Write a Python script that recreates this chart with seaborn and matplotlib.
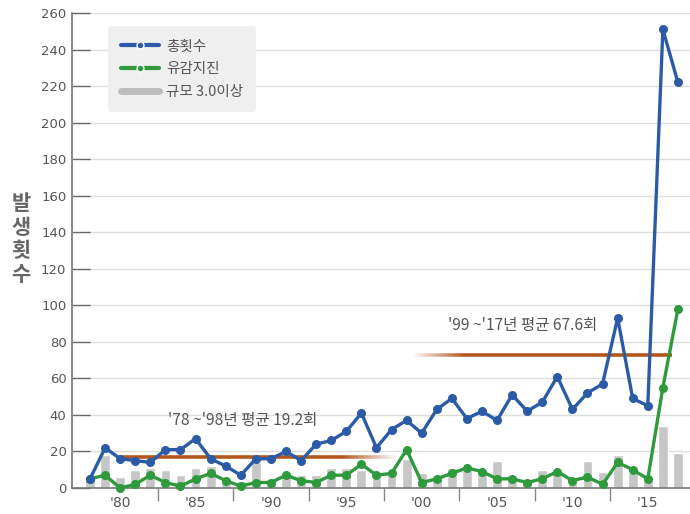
import numpy as np
import matplotlib
matplotlib.use("Agg")
import matplotlib.pyplot as plt
import seaborn as sns
from matplotlib.lines import Line2D

sns.set_style("white")
plt.rcParams['font.family'] = ['Noto Sans CJK KR', 'DejaVu Sans']

# data
years = list(range(1978, 2018))
total = [5, 22, 16, 15, 14, 21, 21, 27, 16, 12, 7, 16, 16, 20, 15, 24, 26, 31, 41, 22,
         32, 37, 30, 43, 49, 38, 42, 37, 51, 42, 47, 61, 43, 52, 57, 93, 49, 45, 251, 222]
felt = [5, 7, 0, 2, 7, 3, 1, 5, 8, 4, 1, 3, 3, 7, 4, 3, 7, 7, 13, 7,
        8, 21, 3, 5, 8, 11, 9, 5, 5, 3, 5, 9, 4, 6, 2, 14, 10, 5, 55, 98]
m3 = [5, 18, 6, 10, 11, 10, 7, 11, 12, 5, 4, 14, 5, 8, 7, 7, 11, 11, 10, 8,
      8, 16, 8, 5, 11, 10, 9, 15, 7, 4, 10, 8, 5, 15, 9, 18, 8, 5, 34, 19]
xticks = [1980, 1985, 1990, 1995, 2000, 2005, 2010, 2015]
xticklabels = ["'80", "'85", "'90", "'95", "'00", "'05", "'10", "'15"]
avg_periods = [(1980.0, 1998.3), (1999.3, 2016.6)]
avg_levels = [17, 73]
avg_labels = ["'78 ~'98년 평균 19.2회", "'99 ~'17년 평균 67.6회"]

blue = "#2B5BA6"
green = "#2E9A3C"
grey_bar = "#C6C6C6"
orange = "#B4571C"
txt = "#555555"

fig = plt.figure(figsize=(6.9, 5.14), dpi=100)
ax = fig.add_axes([0.1043, 0.0506, 0.8957, 0.9241])

sns.barplot(x=years, y=m3, native_scale=True, width=0.65, color=grey_bar,
            ax=ax, zorder=2)

# average lines, faded at one end
for (x0, x1), lvl, fade_right in zip(avg_periods, avg_levels, [True, False]):
    xs = np.linspace(x0, x1, 120)
    n = len(xs) - 1
    for i in range(n):
        t = i / n
        if fade_right:
            a = 1.0 if t < 0.8 else max(0.0, (1 - t) / 0.2)
        else:
            a = 1.0 if t > 0.2 else max(0.0, t / 0.2)
        ax.plot(xs[i:i + 2], [lvl, lvl], color=orange, lw=2.6, alpha=a,
                solid_capstyle='butt', zorder=3)

sns.lineplot(x=years, y=total, color=blue, marker='o', markersize=6.5,
             markeredgewidth=0, linewidth=2.4, ax=ax, zorder=5, clip_on=False)
sns.lineplot(x=years, y=felt, color=green, marker='o', markersize=6.5,
             markeredgewidth=0, linewidth=2.4, ax=ax, zorder=4, clip_on=False)

ax.text(1988.1, 37, avg_labels[0], ha='center', va='center', fontsize=11.2, color=txt)
ax.text(2006.7, 89, avg_labels[1], ha='center', va='center', fontsize=11.2, color=txt)

ax.set_xlim(1976.8, 2017.8)
ax.set_ylim(0, 260)
yt = np.arange(0, 261, 20)
ax.set_yticks(yt)
ax.set_yticklabels([str(v) for v in yt], fontsize=9.5, color=txt, family='DejaVu Sans')
for v in yt[1:]:
    ax.plot([1977.85, 2017.8], [v, v], color="#DDDDDD", lw=1, zorder=0)
ax.set_xticks(xticks)
ax.set_xticklabels(xticklabels, fontsize=10, color=txt, family='DejaVu Sans')
ax.set_xticks([y + 2.5 for y in xticks[:-1]], minor=True)
ax.tick_params(axis='x', which='major', bottom=True, length=0, pad=6)
ax.tick_params(axis='x', which='minor', bottom=True, direction='out', length=9,
               color="#888888", width=1)
ax.tick_params(axis='y', left=True, direction='in', length=13, color="#666666",
               width=1, pad=4)
for s in ['top', 'right']:
    ax.spines[s].set_visible(False)
for s in ['left', 'bottom']:
    ax.spines[s].set_color("#777777")
    ax.spines[s].set_linewidth(1.2)
ax.set_xlabel("")
ax.set_ylabel("")

fig.text(0.030, 0.535, "발\n생\n횟\n수", ha='center', va='center', fontsize=15,
         color="#666666", linespacing=1.15, fontweight='bold')

handles = [
    Line2D([], [], color=blue, lw=3, marker='o', markersize=5, markerfacecolor=blue,
           markeredgecolor='white', markeredgewidth=1),
    Line2D([], [], color=green, lw=3, marker='o', markersize=5, markerfacecolor=green,
           markeredgecolor='white', markeredgewidth=1),
    Line2D([], [], color="#BDBDBD", lw=5),
]
leg = ax.legend(handles, ["총횟수", "유감지진", "규모 3.0이상"], loc='upper left',
                bbox_to_anchor=(0.058, 0.972), borderaxespad=0, frameon=True,
                fontsize=10.5, handlelength=2.6, labelcolor=txt, borderpad=0.9,
                labelspacing=0.6, handletextpad=0.5)
leg.get_frame().set_facecolor("#EFEFEF")
leg.get_frame().set_edgecolor("none")
leg.get_frame().set_alpha(1)

fig.savefig("out.png", dpi=100)
